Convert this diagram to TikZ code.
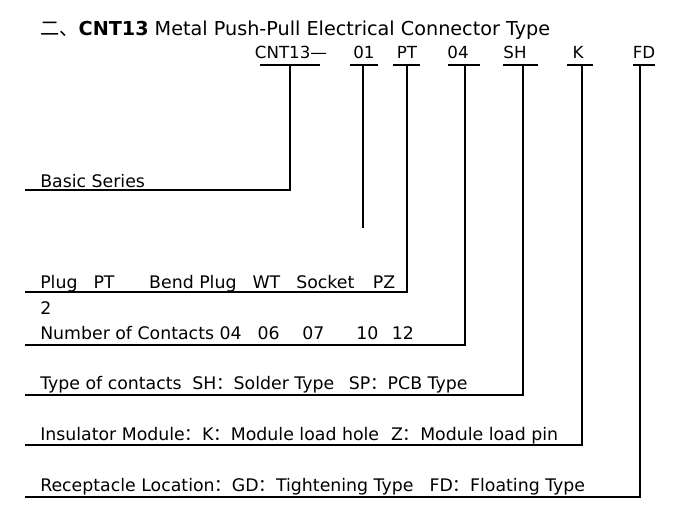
\documentclass[tikz,border=0pt]{standalone}
\usepackage{fontspec}
\setmainfont{DejaVu Sans}
\newfontfamily\cjk{Noto Sans CJK SC}
\newcommand{\fc}{{\cjk ：}}
\begin{document}
\begin{tikzpicture}[x=0.75pt,y=-0.75pt,
  lbl/.style={anchor=base west,inner sep=0,font=\fontsize{13}{15}\selectfont},
  code/.style={anchor=base,inner sep=0,font=\fontsize{12.5}{14}\selectfont},
  ln/.style={line width=0.8pt}]
\useasboundingbox (0,0) rectangle (682,518);
\node[anchor=base west,inner sep=0,font=\fontsize{14.4}{16}\selectfont] (title) at (40,35) {{\cjk 二、}\textbf{CNT13} Metal Push-Pull Electrical Connector Type};
% codes
\node[code] (c1) at (291,58) {CNT13—};
\node[code] (c2) at (364,58) {01};
\node[code] (c3) at (407,58) {PT};
\node[code] (c4) at (458,58) {04};
\node[code] (c5) at (515,58) {SH};
\node[code] (c6) at (578,58) {K};
\node[code] (c7) at (644,58) {FD};
\foreach \a/\b in {260/320,350/378,393/420,448/480,503/538,567/593,633/655}
  \draw[ln] (\a,65) -- (\b,65);
\coordinate (t1) at (290,65); \coordinate (e1) at (290,190); \coordinate (l1) at (25,190);
\coordinate (t2) at (363,65); \coordinate (e2) at (363,228);
\coordinate (t3) at (407,65); \coordinate (e3) at (407,292); \coordinate (l3) at (25,292);
\coordinate (t4) at (465,65); \coordinate (e4) at (465,345); \coordinate (l4) at (25,345);
\coordinate (t5) at (523,65); \coordinate (e5) at (523,395); \coordinate (l5) at (25,395);
\coordinate (t6) at (582,65); \coordinate (e6) at (582,445); \coordinate (l6) at (25,445);
\coordinate (t7) at (640,65); \coordinate (e7) at (640,497); \coordinate (l7) at (25,497);
\draw[ln] (t1) -- (e1) -- (l1);
\draw[ln] (t2) -- (e2);
\draw[ln] (t3) -- (e3) -- (l3);
\draw[ln] (t4) -- (e4) -- (l4);
\draw[ln] (t5) -- (e5) -- (l5);
\draw[ln] (t6) -- (e6) -- (l6);
\draw[ln] (t7) -- (e7) -- (l7);
\node[lbl] (a) at (40,187) {Basic Series};
\node[lbl] (b) at (40,288) {Plug\hspace{12pt}PT\hspace{26pt}Bend Plug\hspace{12pt}WT\hspace{12pt}Socket\hspace{14pt}PZ};
\node[lbl] (b2) at (40,314) {2};
\node[lbl] (c) at (40,339) {Number of Contacts 04\hspace{12pt}06\hspace{17pt}07\hspace{24pt}10\hspace{10pt}12};
\node[lbl] (d) at (40,389) {Type of contacts\hspace{8pt}SH\fc Solder Type\hspace{11pt}SP\fc PCB Type};
\node[lbl] (e) at (40,440) {Insulator Module\fc K\fc Module load hole\hspace{9pt}Z\fc Module load pin};
\node[lbl] (f) at (40,491) {Receptacle Location\fc GD\fc Tightening Type\hspace{12pt}FD\fc Floating Type};
\end{tikzpicture}
\end{document}
